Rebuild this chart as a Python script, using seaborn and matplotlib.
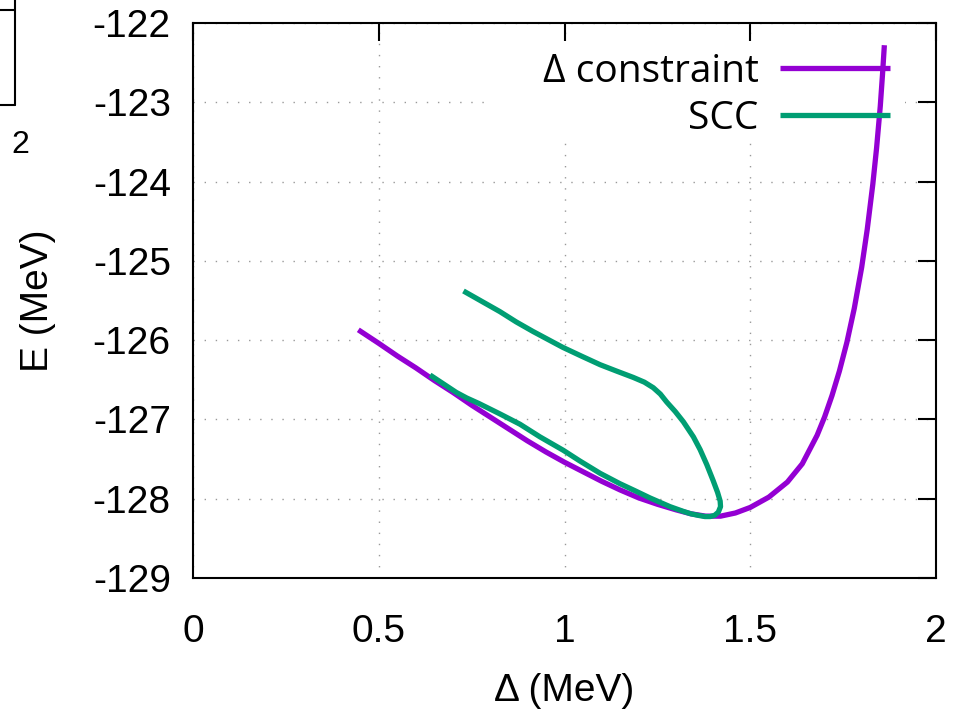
import matplotlib
matplotlib.use("Agg")
import matplotlib.pyplot as plt
from matplotlib.lines import Line2D
from matplotlib.patches import Rectangle
from matplotlib.font_manager import FontProperties
import seaborn as sns

# Energy curve under the pairing-gap constraint
constraint_delta = [0.445, 0.50, 0.55, 0.60, 0.65, 0.70, 0.75, 0.80, 0.85, 0.90,
                    0.95, 1.00, 1.05, 1.10, 1.15, 1.20, 1.25, 1.30, 1.34, 1.38,
                    1.42, 1.46, 1.50, 1.55, 1.60, 1.64, 1.68, 1.70, 1.72, 1.74,
                    1.76, 1.78, 1.80, 1.815, 1.83, 1.84, 1.85, 1.856, 1.861]
constraint_energy = [-125.87, -126.04, -126.20, -126.35, -126.51, -126.66, -126.82,
                     -126.97, -127.12, -127.27, -127.41, -127.54, -127.66, -127.78,
                     -127.89, -127.99, -128.07, -128.14, -128.19, -128.22, -128.22,
                     -128.18, -128.11, -127.98, -127.79, -127.56, -127.20, -126.97,
                     -126.70, -126.39, -126.03, -125.60, -125.08, -124.60, -124.03,
                     -123.58, -123.05, -122.65, -122.28]

# Self-consistent (SCC) trajectory, in order along the loop
scc_delta = [0.728, 0.777, 0.826, 0.870, 0.915, 0.955, 0.995, 1.045, 1.096, 1.140,
             1.185, 1.215, 1.239, 1.258, 1.275, 1.298, 1.320, 1.347, 1.365, 1.383,
             1.400, 1.412, 1.419, 1.420, 1.414, 1.404, 1.392, 1.378, 1.360, 1.340,
             1.320, 1.284, 1.230, 1.190, 1.149, 1.096, 1.040, 0.997, 0.934, 0.880,
             0.826, 0.770, 0.737, 0.709, 0.680, 0.638]
scc_energy = [-125.38, -125.51, -125.64, -125.77, -125.89, -125.99, -126.09, -126.20,
              -126.31, -126.39, -126.47, -126.53, -126.60, -126.68, -126.78, -126.90,
              -127.03, -127.22, -127.38, -127.57, -127.77, -127.92, -128.03, -128.10,
              -128.17, -128.21, -128.225, -128.225, -128.21, -128.19, -128.16, -128.10,
              -127.99, -127.90, -127.81, -127.68, -127.52, -127.39, -127.22, -127.06,
              -126.93, -126.80, -126.73, -126.66, -126.57, -126.44]

x_ticks = [0, 0.5, 1, 1.5, 2]
x_tick_labels = ["0", "0.5", "1", "1.5", "2"]
y_ticks = [-129, -128, -127, -126, -125, -124, -123, -122]
y_tick_labels = ["-129", "-128", "-127", "-126", "-125", "-124", "-123", "-122"]

series_labels = ["Δ constraint", "SCC"]
series_colors = ["#9400D3", "#009E73"]

sns.set_theme(style="white")
plt.rcParams["font.family"] = ["Liberation Sans", "DejaVu Sans"]
plt.rcParams["axes.unicode_minus"] = False

W, H = 961, 721
fig = plt.figure(figsize=(W / 100, H / 100), dpi=100)
ax = fig.add_axes([193 / W, 143 / H, 743 / W, 555 / H])

line_kw = dict(sort=False, estimator=None, lw=3.8, zorder=3,
               solid_joinstyle="round", solid_capstyle="butt", ax=ax)
sns.lineplot(x=constraint_delta, y=constraint_energy, color=series_colors[0],
             label=series_labels[0], **line_kw)
sns.lineplot(x=scc_delta, y=scc_energy, color=series_colors[1],
             label=series_labels[1], **line_kw)

ax.set_xlim(0, 2)
ax.set_ylim(-129, -122)
ax.set_xticks(x_ticks, x_tick_labels)
ax.set_yticks(y_ticks, y_tick_labels)

ax.tick_params(axis="both", direction="in", length=13, width=1.5, color="black",
               labelsize=28, labelcolor="black", top=True, right=True)
ax.tick_params(axis="x", pad=26)
ax.tick_params(axis="y", pad=16)

for sp in ax.spines.values():
    sp.set_color("black")
    sp.set_linewidth(1.5)

ax.set_axisbelow(True)
ax.grid(True, color="#999999", linestyle=(0, (1, 7)), linewidth=1.0)

# opaque key area so the grid does not run behind the legend
ax.add_patch(Rectangle((0.393, 0.784), 0.565, 0.180, transform=ax.transAxes,
                       facecolor="white", edgecolor="none", zorder=0.6))

ax.set_xlabel("Δ (MeV)", fontsize=28, color="black")
ax.set_ylabel("E (MeV)", fontsize=28, color="black")
ax.xaxis.set_label_coords(0.5, -0.171)
ax.yaxis.set_label_coords(-0.184, 0.5)

handles, labels = ax.get_legend_handles_labels()
ax.legend(handles, labels, loc="upper right", bbox_to_anchor=(0.938, 0.946),
          markerfirst=False, frameon=False, labelcolor="black",
          prop=FontProperties(family="Open Sans", size=28),
          handlelength=2.82, handletextpad=0.56, borderpad=0, borderaxespad=0,
          labelspacing=0.23)

# corner of the neighbouring panel
fig.add_artist(Line2D([15 / W, 15 / W], [1.0, 1 - 105 / H], transform=fig.transFigure,
                      color="black", lw=1.5))
fig.add_artist(Line2D([0, 15 / W], [1 - 105 / H, 1 - 105 / H], transform=fig.transFigure,
                      color="black", lw=1.5))
fig.add_artist(Line2D([0, 15 / W], [1 - 10 / H, 1 - 10 / H], transform=fig.transFigure,
                      color="black", lw=1.5))
fig.text(20 / W, 1 - 145 / H, "2", ha="center", va="center", fontsize=23, color="black")

fig.savefig("out.png", dpi=100)
